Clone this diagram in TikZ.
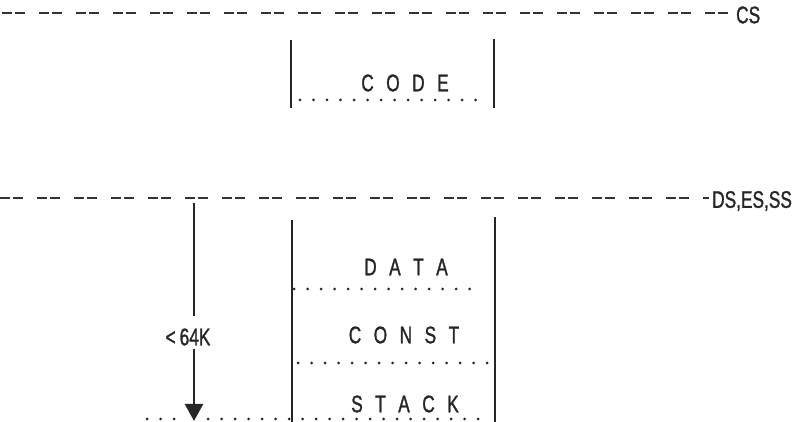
\documentclass[tikz,border=0pt]{standalone}
\usepackage{fontspec}
\setmainfont{Liberation Sans}[FakeStretch=0.72,FakeBold=1.2]
\newfontfamily\spacedfont{Liberation Sans}[FakeStretch=0.72,FakeBold=1.2,WordSpace=2.6]
\usepackage{tikz}
\usetikzlibrary{positioning, calc, arrows.meta}

\begin{document}
\begin{tikzpicture}[x=1pt, y=-1pt,
    sepline/.style={line width=1.6pt, color=black!80, dash pattern=on 10pt off 3pt on 10pt off 14pt},
    wall/.style={line width=2pt, color=black!85},
    dotrow/.style={line width=3pt, line cap=round, color=black!85, dash pattern=on 0pt off 13.5pt},
    lbl/.style={font=\fontsize{24}{28}\selectfont, text=black!85, inner sep=3pt},
    seg/.style={lbl, font=\fontsize{24}{28}\spacedfont}]
        \useasboundingbox (0,0) rectangle (807,422);

        % Draw segment register lines
        \node[lbl, anchor=west] (cs) at (733,15) {CS};
        \node[lbl, anchor=west] (ds) at (709,201) {DS,ES,SS};
        \coordinate (csstart) at (2,13);
        \coordinate (dsstart) at (0,198);
        \draw[sepline] (csstart) -- (csstart -| cs.west);
        \draw[sepline] (dsstart) -- (dsstart -| ds.west);

        % Draw code segment
        \draw[wall] (291,40) -- (291,108);
        \draw[wall] (494,39) -- (494,108);
        \draw[dotrow] (300,100) -- (486,100);
        \node[seg] (code) at (405,83) {C O D E};

        % Draw data group
        \draw[wall] (292,220) -- (292,422);
        \draw[wall] (495,217) -- (495,422);
        \node[seg] (data) at (406,267) {D A T A};
        \draw[dotrow] (294,289) -- (482,289);
        \node[seg] (const) at (404,335) {C O N S T};
        \draw[dotrow] (298,363) -- (490,363);
        \node[seg] (stack) at (405,404) {S T A C K};
        \draw[dotrow] (147,419) -- (181,419);
        \draw[dotrow] (208,419) -- (490,419);

        % Draw size arrow
        \node[lbl] (size) at (188,337) {<\,64K};
        \coordinate (top) at (194,203);
        \coordinate (tip) at (194,421);
        \draw[line width=2.4pt, color=black!85, shorten >=9pt] (top) -- (top |- size.north);
        \draw[line width=2.4pt, color=black!85, -{Triangle[width=18pt,length=17pt]}] (tip |- size.south) -- (tip);
    \end{tikzpicture}
\end{document}
